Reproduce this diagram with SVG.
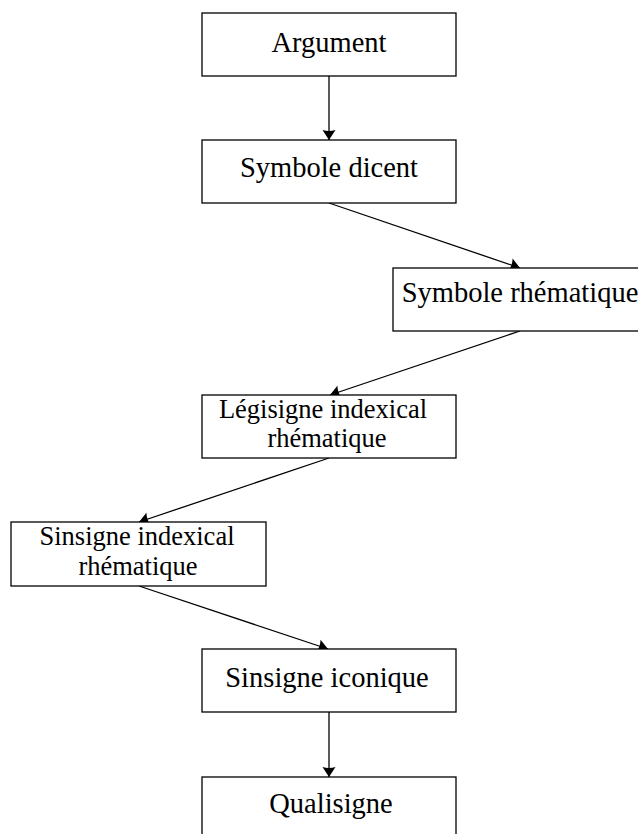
<svg xmlns="http://www.w3.org/2000/svg" width="638" height="834" viewBox="0 0 638 834">
  <style>
    .box { fill: #ffffff; stroke: #000000; stroke-width: 1.3; }
    .lbl { font-family: "Liberation Serif", "DejaVu Serif", serif; font-size: 28.5px; fill: #000000; text-anchor: middle; }
    .lbl2 { font-size: 26.5px; }
    .edge { fill: none; stroke: #000000; stroke-width: 1.3; marker-end: url(#tip); }
  </style>
  <defs>
    <marker id="tip" markerUnits="userSpaceOnUse" markerWidth="14" markerHeight="16" viewBox="-12 -8 14 16" refX="0" refY="0" orient="auto">
      <path d="M0,0 L-10,-6.5 Q-8,0 -10,6.5 Z" fill="#000000"/>
    </marker>
  </defs>

  <!-- connectors -->
  <g id="connectors">
    <line class="edge" x1="329" y1="76" x2="329" y2="140"/>
    <line class="edge" x1="329" y1="203" x2="520" y2="268"/>
    <line class="edge" x1="520" y1="331" x2="330" y2="395"/>
    <line class="edge" x1="329" y1="458" x2="139" y2="522"/>
    <line class="edge" x1="139" y1="586" x2="328" y2="649"/>
    <line class="edge" x1="329" y1="712" x2="329" y2="777"/>
  </g>

  <!-- nodes -->
  <g id="argument">
    <rect class="box" x="202" y="13" width="254" height="63"/>
    <text class="lbl" x="329" y="52">Argument</text>
  </g>
  <g id="symbole-dicent">
    <rect class="box" x="202" y="140" width="254" height="63"/>
    <text class="lbl" x="329" y="177">Symbole dicent</text>
  </g>
  <g id="symbole-rhematique">
    <rect class="box" x="393" y="268" width="254" height="63"/>
    <text class="lbl" x="520" y="302">Symbole rhématique</text>
  </g>
  <g id="legisigne-indexical-rhematique">
    <rect class="box" x="202" y="395" width="254" height="63"/>
    <text class="lbl lbl2"><tspan x="323" y="418">Légisigne indexical</tspan><tspan x="327" y="447">rhématique</tspan></text>
  </g>
  <g id="sinsigne-indexical-rhematique">
    <rect class="box" x="11" y="522" width="255" height="64"/>
    <text class="lbl lbl2"><tspan x="137" y="545">Sinsigne indexical</tspan><tspan x="138" y="575">rhématique</tspan></text>
  </g>
  <g id="sinsigne-iconique">
    <rect class="box" x="202" y="649" width="254" height="63"/>
    <text class="lbl" x="327" y="687">Sinsigne iconique</text>
  </g>
  <g id="qualisigne">
    <rect class="box" x="202" y="777" width="254" height="63"/>
    <text class="lbl" x="331" y="813">Qualisigne</text>
  </g>
</svg>
